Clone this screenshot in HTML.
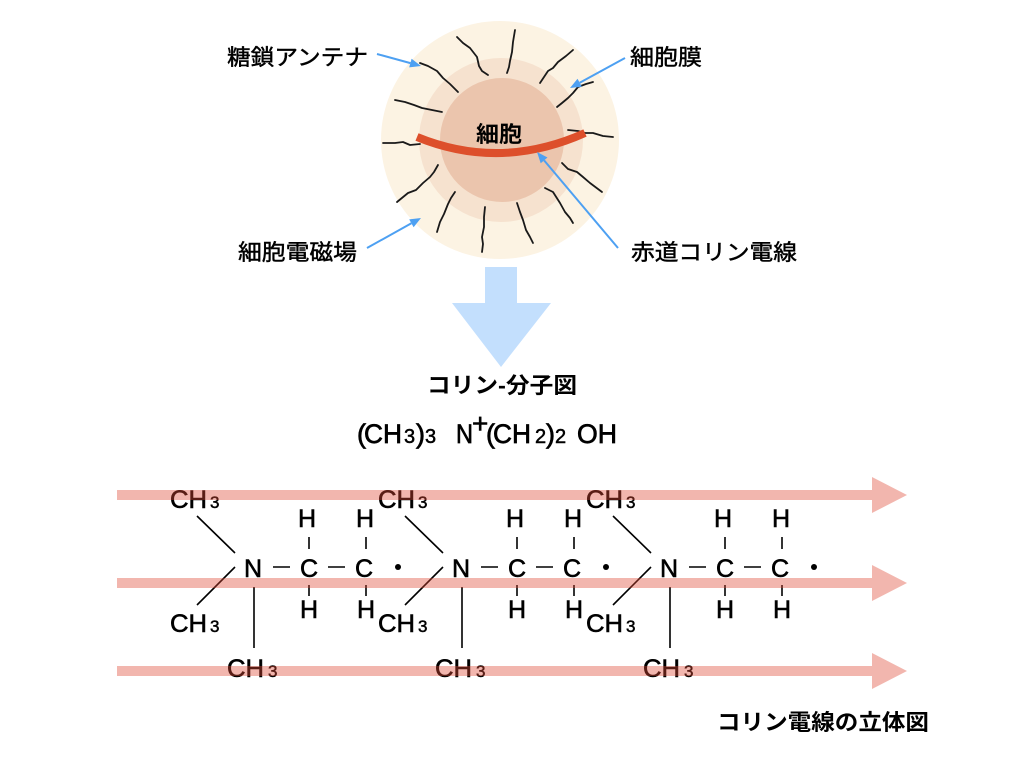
<!DOCTYPE html>
<html>
<head>
<meta charset="utf-8">
<style>
html,body{margin:0;padding:0;background:#fff;}
svg{display:block;}
text{font-family:"Liberation Sans","Noto Sans CJK JP",sans-serif;fill:#000;}
.jp{font-size:22px;stroke:#000;stroke-width:0.45px;}
.jpb{font-size:22px;font-weight:bold;}
.m{font-size:25px;stroke:#000;stroke-width:0.6px;}
.s{font-size:17px;stroke:#000;stroke-width:0.5px;}
.f{font-size:27px;stroke:#000;stroke-width:0.7px;}
.fs{font-size:20px;stroke:#000;stroke-width:0.5px;}
</style>
</head>
<body>
<svg width="1024" height="768" viewBox="0 0 1024 768" xmlns="http://www.w3.org/2000/svg">
<rect width="1024" height="768" fill="#fff"/>

<!-- Cell -->
<circle cx="500" cy="140" r="119" fill="#FCF3E3"/>
<circle cx="501" cy="140" r="82" fill="#F6E2CF"/>
<circle cx="502" cy="140" r="62" fill="#EBC5AD"/>

<!-- hair strands -->
<g fill="none" stroke="#1a1a1a" stroke-width="1.8" stroke-linejoin="round" stroke-linecap="round">
<path d="M457,37 L463,43 L470,48 L477,57 L479,66 L482,71 L488,75"/>
<path d="M515,30 L513,42 L512,52 L510,61 L509,67 L507,73"/>
<path d="M573,50 L566,56 L558,62 L553,68 L548,71 L544,77 L540,83"/>
<path d="M420,63 L428,66 L437,71 L443,78 L450,84 L458,92"/>
<path d="M593,82 L586,84 L578,87 L573,93 L568,98 L562,103 L557,107"/>
<path d="M395,100 L405,102 L414,105 L422,108 L432,110 L442,112"/>
<path d="M568,130 L578,131 L585,133 L593,133 L603,136 L613,137"/>
<path d="M383,143 L395,143 L403,142 L410,145 L420,144"/>
<path d="M438,165 L434,172 L430,177 L423,183 L416,190 L408,193 L397,202"/>
<path d="M562,163 L568,169 L577,172 L583,177 L590,183 L602,192"/>
<path d="M455,192 L451,198 L448,204 L444,214 L440,222 L437,232"/>
<path d="M485,207 L484,217 L484,227 L482,237 L483,244 L482,252"/>
<path d="M517,203 L520,212 L523,220 L526,230 L530,237 L533,243"/>
<path d="M545,188 L553,192 L560,203 L565,212 L570,218 L573,223"/>
</g>

<!-- red equator -->
<path d="M417,137 Q500,171 585,133" fill="none" stroke="#DD4F2B" stroke-width="8"/>

<text class="jpb" x="476" y="142" textLength="46" lengthAdjust="spacingAndGlyphs">細胞</text>

<!-- blue arrows -->
<g stroke="#4DA0F2" stroke-width="2" fill="none">
<line x1="377" y1="54" x2="410.4" y2="63.1"/>
<line x1="625" y1="58" x2="579.7" y2="82.7"/>
<line x1="367" y1="248" x2="411.4" y2="223.3"/>
<line x1="618" y1="248" x2="544.1" y2="160.4"/>
</g>
<g fill="#4DA0F2">
<polygon points="421,66 409.2,67.4 411.6,58.8"/>
<polygon points="570,88 577.5,78.8 581.9,86.7"/>
<polygon points="421,218 413.6,227.3 409.2,219.4"/>
<polygon points="537,152 547.5,157.5 540.7,163.3"/>
</g>

<!-- labels -->
<text class="jp" x="227" y="65" textLength="141" lengthAdjust="spacingAndGlyphs">糖鎖アンテナ</text>
<text class="jp" x="630" y="65" textLength="72" lengthAdjust="spacingAndGlyphs">細胞膜</text>
<text class="jp" x="238" y="260" textLength="119" lengthAdjust="spacingAndGlyphs">細胞電磁場</text>
<text class="jp" x="631" y="260" textLength="166" lengthAdjust="spacingAndGlyphs">赤道コリン電線</text>

<!-- big down arrow -->
<polygon points="485,267 517,267 517,303 551,303 501,367 452,303 485,303" fill="#C3DFFD"/>

<text class="jpb" x="427" y="393" textLength="150" lengthAdjust="spacingAndGlyphs">コリン-分子図</text>

<!-- formula -->
<text class="f" x="357" y="443">(</text>
<text class="f" x="364" y="443" textLength="38" lengthAdjust="spacingAndGlyphs">CH</text>
<text class="fs" x="404" y="443">3</text>
<text class="f" x="416" y="443">)</text>
<text class="fs" x="425" y="443">3</text>
<text class="f" x="456" y="443" textLength="17" lengthAdjust="spacingAndGlyphs">N</text>
<text style="font-size:28px;stroke:#000;stroke-width:0.6px" x="472" y="433">+</text>
<text class="f" x="486" y="443">(</text>
<text class="f" x="493" y="443" textLength="38" lengthAdjust="spacingAndGlyphs">CH</text>
<text class="fs" x="535" y="443">2</text>
<text class="f" x="546" y="443">)</text>
<text class="fs" x="555" y="443">2</text>
<text class="f" x="577" y="443" textLength="40" lengthAdjust="spacingAndGlyphs">OH</text>

<!-- molecule units -->
<g id="u1">
<g stroke="#000" stroke-width="1.6">
<line x1="197" y1="516" x2="235" y2="553"/>
<line x1="235" y1="567" x2="197" y2="605"/>
<line x1="254" y1="587" x2="254" y2="648"/>
<line x1="273" y1="567" x2="290" y2="567"/>
<line x1="328" y1="567" x2="345" y2="567"/>
<line x1="309" y1="537" x2="309" y2="549"/>
<line x1="309" y1="585" x2="309" y2="596"/>
<line x1="366" y1="537" x2="366" y2="549"/>
<line x1="366" y1="585" x2="366" y2="596"/>
</g>
<circle cx="398" cy="567" r="3" fill="#000"/>
<text class="m" x="170" y="508" textLength="37" lengthAdjust="spacingAndGlyphs">CH</text>
<text class="s" x="210" y="508">3</text>
<text class="m" x="170" y="632" textLength="37" lengthAdjust="spacingAndGlyphs">CH</text>
<text class="s" x="210" y="632">3</text>
<text class="m" x="227" y="677" textLength="37" lengthAdjust="spacingAndGlyphs">CH</text>
<text class="s" x="268" y="677">3</text>
<text class="m" x="244" y="577">N</text>
<text class="m" x="300" y="577">C</text>
<text class="m" x="355" y="577">C</text>
<text class="m" x="298" y="527">H</text>
<text class="m" x="356" y="527">H</text>
<text class="m" x="300" y="618">H</text>
<text class="m" x="357" y="618">H</text>
</g>
<use href="#u1" x="208" y="0"/>
<use href="#u1" x="416" y="0"/>

<!-- pink arrows (drawn over text) -->
<g fill="rgb(222,72,52)" fill-opacity="0.4">
<polygon points="117,490 872,490 872,477 907,495 872,513 872,500 117,500"/>
<polygon points="117,578 872,578 872,565 907,583 872,601 872,588 117,588"/>
<polygon points="117,666 872,666 872,653 907,671 872,689 872,676 117,676"/>
</g>

<text class="jpb" x="717" y="730" textLength="212" lengthAdjust="spacingAndGlyphs">コリン電線の立体図</text>
</svg>
</body>
</html>
